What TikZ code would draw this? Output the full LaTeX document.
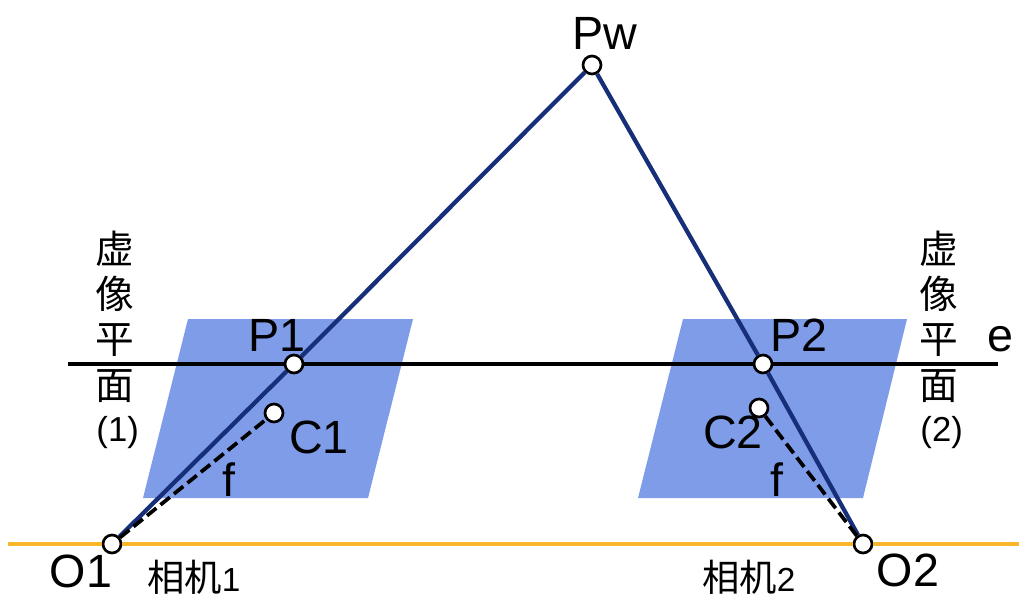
\documentclass[tikz,border=0pt]{standalone}
\usepackage{fontspec}
\setmainfont{Liberation Sans}
\newfontfamily\cjk{Noto Sans CJK SC}
\definecolor{planeblue}{HTML}{7F9CE8}
\definecolor{raynavy}{HTML}{172E78}
\definecolor{baseorange}{HTML}{F8B62B}
\tikzset{
  punto/.style={circle, draw=black, fill=white, line width=2pt, minimum size=13.5pt, inner sep=0pt},
  etiqueta/.style={inner sep=0pt, font=\fontsize{35}{36}\selectfont},
  vertical/.style={inner sep=0pt, align=center, font=\fontsize{29}{34}\selectfont},
  camara/.style={inner sep=0pt, anchor=west, font=\fontsize{28}{30}\selectfont}
}
\begin{document}
\begin{tikzpicture}[x=0.75pt, y=-0.75pt]
    \useasboundingbox (0,0) rectangle (1019,599);

    % Planos virtuales
    \fill[planeblue] (188,319) -- (413,319) -- (368,498) -- (143,498) -- cycle;
    \fill[planeblue] (683,319) -- (907,319) -- (863,498) -- (638,498) -- cycle;

    % Puntos
    \node[punto] (Pw) at (592,65) {};
    \node[punto] (P1) at (294,364) {};
    \node[punto] (P2) at (763,364) {};
    \node[punto] (C1) at (274,413) {};
    \node[punto] (C2) at (759,408) {};
    \node[punto] (O1) at (112,544) {};
    \node[punto] (O2) at (863,544) {};
    \coordinate (eL) at (68,364);
    \coordinate (eR) at (998,364);
    \coordinate (baseL) at (8,544);
    \coordinate (baseR) at (1019,544);

    % Lineas
    \draw[baseorange, line width=3pt] (baseL) -- (O1) -- (O2) -- (baseR);
    \draw[black, line width=3.2pt] (eL) -- (P1) -- (P2) -- (eR);
    \draw[raynavy, line width=3.2pt] (O1) -- (P1) -- (Pw) -- (P2) -- (O2);
    \draw[black, line width=2.8pt, dash pattern=on 9pt off 4pt] (O1) -- (C1);
    \draw[black, line width=2.8pt, dash pattern=on 9pt off 4pt] (O2) -- (C2);

    % Etiquetas
    \node[etiqueta] (Pwtxt) at (605,33) {Pw};
    \node[etiqueta] (P1txt) at (277,335) {P1};
    \node[etiqueta] (P2txt) at (799,335) {P2};
    \node[etiqueta] (etxt) at (1000,339) {e};
    \node[etiqueta] (C1txt) at (319,437) {C1};
    \node[etiqueta] (C2txt) at (733,432) {C2};
    \node[etiqueta] (f1txt) at (229,480) {f};
    \node[etiqueta] (f2txt) at (777,480) {f};
    \node[etiqueta] (O1txt) at (81,571) {O1};
    \node[etiqueta] (O2txt) at (908,570) {O2};
    \node[vertical] (plano1) at (115,340) {{\cjk 虚}\\{\cjk 像}\\{\cjk 平}\\{\cjk 面}\\[-2pt]\hspace*{4pt}\fontsize{26}{30}\selectfont (1)};
    \node[vertical] (plano2) at (939,340) {{\cjk 虚}\\{\cjk 像}\\{\cjk 平}\\{\cjk 面}\\[-2pt]\hspace*{4pt}\fontsize{26}{30}\selectfont (2)};
    \node[camara] (cam1) at (147,577) {{\cjk 相机}\fontsize{25}{30}\selectfont 1};
    \node[camara] (cam2) at (702,577) {{\cjk 相机}\fontsize{25}{30}\selectfont 2};
\end{tikzpicture}
\end{document}
